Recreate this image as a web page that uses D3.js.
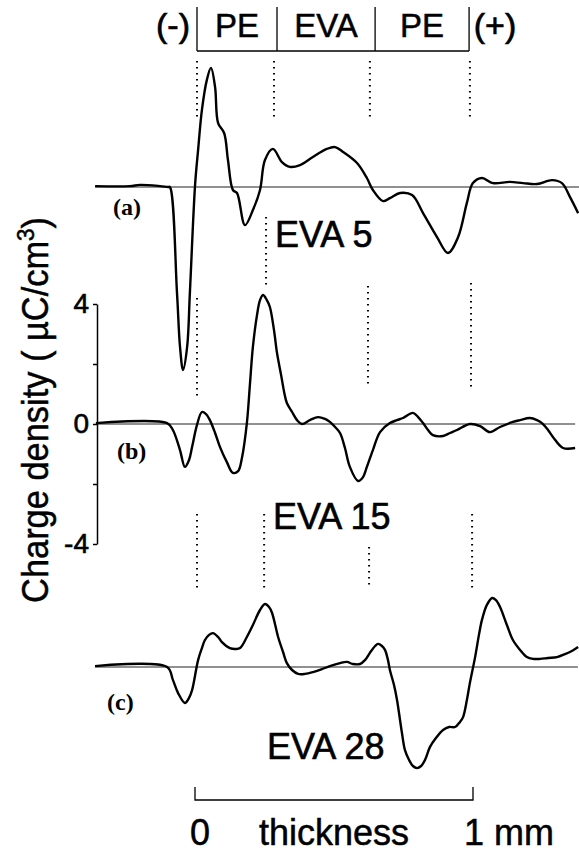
<!DOCTYPE html>
<html>
<head>
<meta charset="utf-8">
<script src="https://cdn.jsdelivr.net/npm/d3@7"></script>
<style>
  body { margin: 0; background: #fff; }
  svg { display: block; }
  .sans { font-family: "Liberation Sans", Arial, Helvetica, sans-serif; }
  .serif { font-family: "Liberation Serif", "Times New Roman", serif; }
</style>
</head>
<body>
<div id="chart"></div>
<script>
// positions through the sample, in µm (0 = PE/electrode interface, 1000 = 1 mm)
const posA = [-372,-245,-208,-135,-106,-99,-73,-62,-51,-36,-26,-7,4,18,36,51,66,77,99,113,131,146,175,204,230,248,277,310,339,376,423,474,504,533,584,620,642,679,704,741,785,825,876,916,953,985,1007,1040,1080,1142,1190,1241,1296,1332,1361,1391];
// charge density, µC/cm3
const rhoA = [0.03,0.03,0.07,0.03,0,0,-3.53,-5.33,-6.1,-5.33,-3.53,0.07,1.23,2.57,3.57,3.97,3.33,2.13,1.8,0.9,-0.1,-0.2,-1.27,-0.77,-0.1,0.9,1.27,0.83,0.67,0.73,1.0,1.27,1.33,1.17,0.8,0.3,-0.1,-0.47,-0.37,-0.2,-0.27,-0.87,-1.67,-2.2,-1.67,-0.53,0.13,0.3,0.13,0.17,0.13,0.1,0.23,0.13,-0.33,-0.87];

const posB = [-369,-109,-88,-62,-44,-29,-18,0,18,33,47,66,84,109,131,150,164,182,193,204,219,230,241,255,266,281,292,307,318,328,347,365,383,412,442,467,485,504,522,540,558,588,606,620,642,668,704,730,752,788,807,825,843,861,898,923,949,996,1033,1069,1106,1153,1179,1215,1241,1259,1281,1299,1336,1380];
const rhoB = [0.03,0.03,-0.2,-0.87,-1.43,-1.2,-0.77,-0.03,0.4,0.33,0.13,-0.3,-0.77,-1.27,-1.63,-1.57,-1.13,0.03,1.3,2.57,3.63,4.13,4.3,4.13,3.9,3.13,2.37,1.63,1.07,0.7,0.4,0.13,0,0.13,0.23,0.17,0.07,-0.1,-0.3,-0.8,-1.43,-1.9,-1.77,-1.43,-0.87,-0.27,0.03,0.13,0.2,0.37,0.23,0.03,-0.2,-0.37,-0.4,-0.3,-0.2,0,-0.07,-0.27,-0.1,0.07,0.13,0.2,0.13,0.03,-0.2,-0.43,-0.8,-0.8];

const posC = [-372,-109,-88,-69,-44,-29,-18,4,18,29,44,58,77,91,120,142,157,182,204,230,248,263,274,296,314,328,347,369,394,423,456,485,522,547,569,595,613,631,650,661,675,686,697,704,719,730,748,759,774,788,803,818,832,850,872,898,920,942,960,971,985,996,1015,1029,1040,1058,1077,1091,1106,1131,1153,1179,1204,1226,1252,1281,1314,1343,1361,1391];
const rhoC = [0.03,0,-0.43,-0.87,-1.2,-1.03,-0.77,0.23,0.63,0.9,1.07,1.13,1.0,0.83,0.63,0.6,0.63,1.0,1.4,1.9,2.1,2.0,1.8,1.0,0.5,0.13,-0.1,-0.23,-0.23,-0.17,-0.07,0.03,0.13,0.17,0.1,0.1,0.23,0.47,0.7,0.77,0.7,0.57,0.23,-0.1,-0.6,-1.1,-2.2,-2.77,-3.1,-3.3,-3.37,-3.3,-3.1,-2.67,-2.37,-2.1,-2.0,-2.0,-1.83,-1.67,-1.1,-0.53,0.33,1.07,1.57,2.07,2.3,2.23,2.0,1.4,0.9,0.57,0.33,0.27,0.27,0.3,0.33,0.43,0.5,0.67];

const sampleNames = ["EVA 5", "EVA 15", "EVA 28"];
const panelTags = ["(a)", "(b)", "(c)"];
const layerNames = ["PE", "EVA", "PE"];
const layerBounds = [0, 292, 650, 993];   // µm
const electrodes = ["(-)", "(+)"];
const yTicks = [-4, -2, 0, 2, 4];
const yTickLabels = ["-4", "", "0", "", "4"];

const W = 579, H = 852;
const x = d3.scaleLinear().domain([0, 1000]).range([197, 471]);
const y = d3.scaleLinear().domain([-4, 4]).range([544, 304]);
const offsets = [-237, 0, 243];  // vertical shift of each trace (px)

const svg = d3.select("#chart").append("svg")
  .attr("width", W).attr("height", H)
  .attr("class", "sans");

const line = d3.line()
  .x(d => x(d[0]))
  .y(d => y(d[1]))
  .curve(d3.curveCatmullRom.alpha(0.5));

const traces = [
  { pos: posA, rho: rhoA, x0: -372, x1: 1400 },
  { pos: posB, rho: rhoB, x0: -369, x1: 1380 },
  { pos: posC, rho: rhoC, x0: -372, x1: 1390 }
];

traces.forEach((t, i) => {
  const g = svg.append("g").attr("transform", `translate(0,${offsets[i]})`);
  // zero line
  g.append("line")
    .attr("x1", x(t.x0)).attr("x2", x(t.x1))
    .attr("y1", y(0)).attr("y2", y(0))
    .attr("stroke", "#222").attr("stroke-width", 1.2);
  g.append("path")
    .datum(d3.zip(t.pos, t.rho))
    .attr("fill", "none")
    .attr("stroke", "#000")
    .attr("stroke-width", 2.4)
    .attr("stroke-linejoin", "round")
    .attr("d", line);
});

// y axis (belongs to trace b)
const axis = svg.append("g")
  .attr("transform", "translate(97,0)")
  .call(d3.axisLeft(y).tickValues(yTicks).tickSize(4).tickSizeOuter(0).tickPadding(4)
    .tickFormat((d, i) => yTickLabels[i]));
axis.select(".domain").attr("stroke", "#000").attr("stroke-width", 1.5);
axis.selectAll(".tick line").attr("stroke", "#000").attr("stroke-width", 1.5);
axis.selectAll(".tick text")
  .attr("font-family", "'Liberation Sans', Arial, sans-serif")
  .attr("font-size", 28)
  .attr("fill", "#000")
  .attr("stroke", "#000").attr("stroke-width", 0.6);

// y axis title
const yt = svg.append("text")
  .attr("transform", "translate(48,410) rotate(-90) scale(0.93,1)")
  .attr("text-anchor", "middle")
  .attr("font-size", 37)
  .attr("stroke", "#000").attr("stroke-width", 0.5);
yt.append("tspan").text("Charge density ( \u00b5C/cm");
yt.append("tspan").attr("dy", -14).attr("font-size", 24).text("3");
yt.append("tspan").attr("dy", 14).text(")");

// dotted layer boundaries: [µm, top value, bottom value] in the b-axis frame
const dots = [
  [0, 12.1, 10.1], [281, 12.1, 10.1], [631, 12.1, 10.1], [996, 12.1, 10.1],
  [252, 6.9, 4.6],
  [0, 4.2, 0.8], [624, 4.6, 1.2], [1000, 4.7, 1.2],
  [0, -3.0, -5.6], [245, -3.0, -5.6], [628, -4.1, -5.5], [1004, -3.0, -5.6]
];
svg.append("g").selectAll("line")
  .data(dots)
  .join("line")
    .attr("x1", d => x(d[0])).attr("x2", d => x(d[0]))
    .attr("y1", d => y(d[1])).attr("y2", d => y(d[2]))
    .attr("stroke", "#000")
    .attr("stroke-width", 2)
    .attr("stroke-dasharray", "1.6,4.4");

// header with layer names
const head = svg.append("g");
layerBounds.forEach(b => {
  head.append("line")
    .attr("x1", x(b)).attr("x2", x(b)).attr("y1", 7).attr("y2", 51)
    .attr("stroke", "#000").attr("stroke-width", 1.3);
});
head.append("line")
  .attr("x1", x(layerBounds[0])).attr("x2", x(layerBounds[3]))
  .attr("y1", 51).attr("y2", 51)
  .attr("stroke", "#000").attr("stroke-width", 1.3);
head.selectAll(".layer")
  .data(layerNames)
  .join("text")
    .attr("class", "layer")
    .attr("x", (d, i) => (x(layerBounds[i]) + x(layerBounds[i + 1])) / 2)
    .attr("y", 37)
    .attr("text-anchor", "middle")
    .attr("font-size", 33)
    .attr("stroke", "#000").attr("stroke-width", 0.5)
    .text(d => d);
head.append("text")
  .attr("x", 173).attr("y", 37).attr("text-anchor", "middle")
  .attr("font-size", 34).attr("stroke", "#000").attr("stroke-width", 0.7)
  .text(electrodes[0]);
head.append("text")
  .attr("x", 495).attr("y", 37).attr("text-anchor", "middle")
  .attr("font-size", 34).attr("stroke", "#000").attr("stroke-width", 0.7)
  .text(electrodes[1]);

// panel tags and sample names
const tagPos = [[113, 215], [117, 459], [107, 710]];
svg.selectAll(".tag")
  .data(panelTags)
  .join("text")
    .attr("class", "tag serif")
    .attr("x", (d, i) => tagPos[i][0])
    .attr("y", (d, i) => tagPos[i][1])
    .attr("font-size", 24)
    .attr("font-weight", "bold")
    .text(d => d);

const namePos = [[275, 247], [273, 529], [267, 759]];
svg.selectAll(".sample")
  .data(sampleNames)
  .join("text")
    .attr("class", "sample")
    .attr("x", (d, i) => namePos[i][0])
    .attr("y", (d, i) => namePos[i][1])
    .attr("font-size", 36)
    .attr("stroke", "#000").attr("stroke-width", 0.6)
    .text(d => d);

// thickness scale bar
const bar = svg.append("g");
bar.append("path")
  .attr("d", `M${x(0) - 2},787V800H${x(1000) + 2}V787`)
  .attr("fill", "none").attr("stroke", "#000").attr("stroke-width", 1.3);
[[x(0) + 3, "0"], [334, "thickness"], [509, "1 mm"]].forEach(([px, t]) => {
  bar.append("text")
    .attr("x", px).attr("y", 845)
    .attr("text-anchor", "middle")
    .attr("font-size", 36)
    .attr("stroke", "#000").attr("stroke-width", 0.5)
    .text(t);
});
</script>
</body>
</html>
